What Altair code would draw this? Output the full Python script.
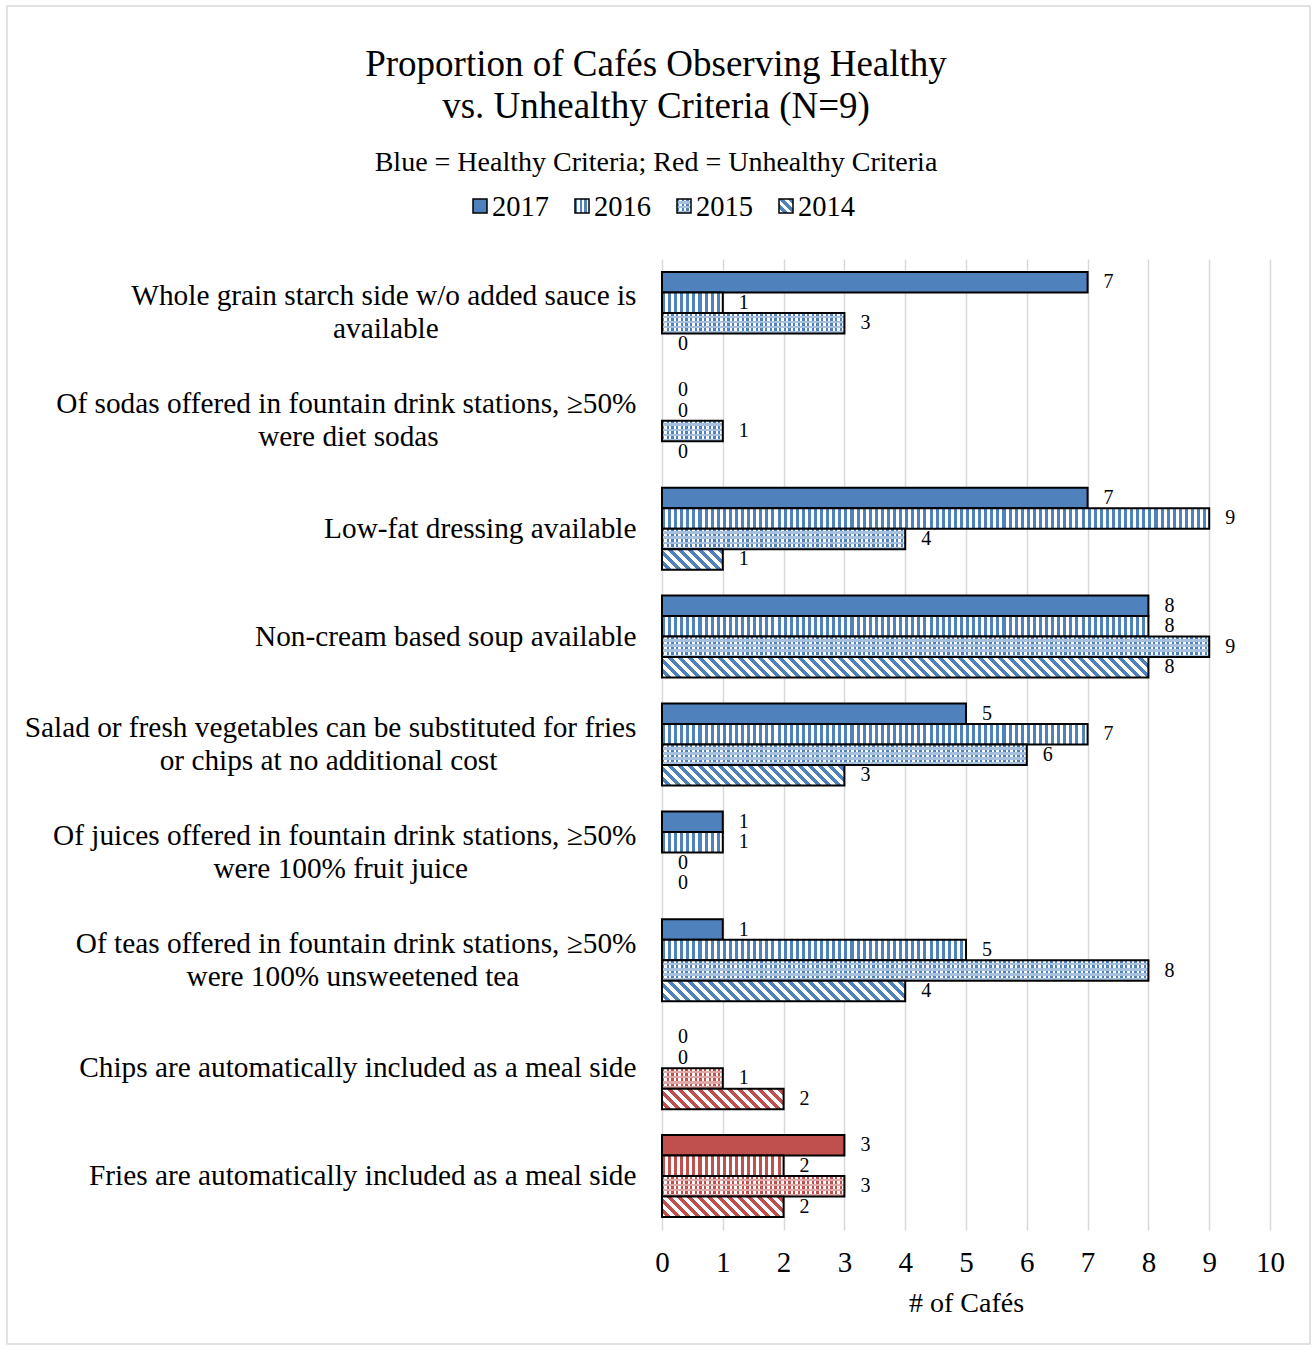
import altair as alt
import pandas as pd

# ---------------- data ----------------
CATEGORY_LINES = [
    ["Whole grain starch side w/o added sauce is", "available"],
    ["Of sodas offered in fountain drink stations, \u226550%", "were diet sodas"],
    ["Low-fat dressing available"],
    ["Non-cream based soup available"],
    ["Salad or fresh vegetables can be substituted for fries", "or chips at no additional cost"],
    ["Of juices offered in fountain drink stations, \u226550%", "were 100% fruit juice"],
    ["Of teas offered in fountain drink stations, \u226550%", "were 100% unsweetened tea"],
    ["Chips are automatically included as a meal side"],
    ["Fries are automatically included as a meal side"],
]
GROUPS = ["Healthy"] * 7 + ["Unhealthy"] * 2
YEARS = ["2017", "2016", "2015", "2014"]
V2017 = [7, 0, 7, 8, 5, 1, 1, 0, 3]
V2016 = [1, 0, 9, 8, 7, 1, 5, 0, 2]
V2015 = [3, 1, 4, 9, 6, 0, 8, 1, 3]
V2014 = [0, 0, 1, 8, 3, 0, 4, 2, 2]
SERIES = {"2017": V2017, "2016": V2016, "2015": V2015, "2014": V2014}
X_TICKS = list(range(0, 11))

TITLE_LINES = ["Proportion of Caf\u00e9s Observing Healthy", "vs. Unhealthy Criteria (N=9)"]
SUBTITLE = "Blue = Healthy Criteria; Red = Unhealthy Criteria"
X_TITLE = "# of Caf\u00e9s"

# ---------------- styling ----------------
FONT = "Liberation Serif"
BLUE = "#4F81BD"
RED = "#C0504D"
BLUE_LIGHT = "#A7C0DE"
RED_LIGHT = "#E0A8A6"
COL = {"Healthy": BLUE, "Unhealthy": RED}
COL_LIGHT = {"Healthy": BLUE_LIGHT, "Unhealthy": RED_LIGHT}
NBSP = "\u00a0"
ZWSP = "\u200b"
LINE2_PAD = [27, 27, 0, 0, 19, 23, 16, 0, 0]  # centres the second label line

PLOT_W, PLOT_H = 608, 971
LEFT, TOP, RIGHT, BOTTOM = 662, 259, 45, 116
PAD_INNER = 0.24
PX_PER_UNIT = PLOT_W / 10.0
BAR_H = PLOT_H / 9.0 * (1 - PAD_INNER) / 4.0
LABEL_LH = 33


def label_key(lines, pad):
    if len(lines) == 1:
        return lines[0]
    return lines[0] + "|" + lines[1] + NBSP * pad + ZWSP


CATS = [label_key(l, p) for l, p in zip(CATEGORY_LINES, LINE2_PAD)]

rows = []
for i, cat in enumerate(CATS):
    for yr in YEARS:
        rows.append({"ci": i, "category": cat, "group": GROUPS[i], "year": yr, "value": SERIES[yr][i]})
df = pd.DataFrame(rows)


# ---------------- pattern gradients ----------------
def r5(v):
    return round(v, 5)


def stripes(color, bg, n, direction="x", start_transparent=False):
    stops = []
    for k in range(n):
        a, b, c = k / n, (k + 0.5) / n, (k + 1) / n
        c1, c2 = (bg, color) if start_transparent else (color, bg)
        stops += [
            {"offset": r5(a), "color": c1},
            {"offset": r5(b), "color": c1},
            {"offset": r5(b), "color": c2},
            {"offset": r5(c), "color": c2},
        ]
    g = {"gradient": "linear", "stops": stops, "x1": 0, "y1": 0}
    if direction == "x":
        g.update({"x2": 1, "y2": 0})
    else:
        g.update({"x2": 0, "y2": 1})
    return g


def diagonal(color, W, H, P=10.0):
    a = (W + H) / (W * W + H * H)
    n = (W + H) / P
    stops = []
    k = 0
    while k < n:
        o0 = min(k / n, 1)
        o1 = min((k + 0.5) / n, 1)
        o2 = min((k + 1) / n, 1)
        stops += [
            {"offset": r5(o0), "color": "white"},
            {"offset": r5(o1), "color": "white"},
            {"offset": r5(o1), "color": color},
            {"offset": r5(o2), "color": color},
        ]
        k += 1
    return {"gradient": "linear", "stops": stops, "x1": 0, "y1": 1,
            "x2": r5(a * W), "y2": r5(1 - a * H)}


# ---------------- encodings ----------------
x_enc = alt.X(
    "value:Q",
    scale=alt.Scale(domain=[0, 10], nice=False),
    axis=alt.Axis(values=X_TICKS, title=X_TITLE, grid=True, domain=False, ticks=False,
                  tickSize=0, labelPadding=18, titlePadding=12, format="d", labelFlush=False),
)
y_enc = alt.Y(
    "category:N",
    scale=alt.Scale(domain=CATS, paddingInner=PAD_INNER, paddingOuter=PAD_INNER / 2),
    axis=alt.Axis(
        title=None, labelExpr="split(datum.label, '|')", ticks=False, tickSize=0,
        domain=False, grid=False, labelPadding=26, labelLimit=800,
        labelLineHeight=LABEL_LH, labelBaseline="middle",
        labelOffset={"condition": {"test": "indexof(datum.value, '|') >= 0", "value": -LABEL_LH / 2}, "value": 0},
    ),
)
yo_enc = alt.YOffset("year:N", scale=alt.Scale(domain=YEARS, paddingInner=0, paddingOuter=0))

layers = []

# 2017: solid bars
layers.append(
    alt.Chart(df)
    .transform_filter((alt.datum.year == "2017") & (alt.datum.value > 0))
    .mark_bar(stroke="black", strokeWidth=2)
    .encode(
        x=x_enc, y=y_enc, yOffset=yo_enc,
        color=alt.Color("group:N", scale=alt.Scale(domain=["Healthy", "Unhealthy"], range=[BLUE, RED]), legend=None),
    )
)


def one_bar(i, yr, **mark):
    return (
        alt.Chart(df)
        .transform_filter((alt.datum.ci == i) & (alt.datum.year == yr))
        .mark_bar(**mark)
        .encode(x=x_enc, y=y_enc, yOffset=yo_enc)
    )


for i in range(len(CATS)):
    g = GROUPS[i]
    c, cl = COL[g], COL_LIGHT[g]
    # 2016: vertical stripes
    v = V2016[i]
    if v > 0:
        layers.append(one_bar(i, "2016", fill=stripes(c, "white", 10 * v), stroke="black", strokeWidth=2))
    # 2015: checker-like texture
    v = V2015[i]
    if v > 0:
        layers.append(one_bar(i, "2015", fill=stripes(c, "white", 13 * v), strokeWidth=0))
        layers.append(one_bar(i, "2015", fill=stripes(cl, "rgba(255,255,255,0)", 4, direction="y", start_transparent=True),
                              stroke="black", strokeWidth=2))
    # 2014: diagonal stripes
    v = V2014[i]
    if v > 0:
        W = v * PX_PER_UNIT
        layers.append(one_bar(i, "2014", fill=diagonal(c, W, BAR_H), stroke="black", strokeWidth=2))

# value labels
layers.append(
    alt.Chart(df)
    .mark_text(align="center", baseline="middle", dx=21, font=FONT, fontSize=20, color="black")
    .encode(x=x_enc, y=y_enc, yOffset=yo_enc, text=alt.Text("value:Q", format="d"))
)

# ---------------- titles (as text) ----------------
for k, line in enumerate(TITLE_LINES):
    layers.append(
        alt.Chart(pd.DataFrame({"t": [line]}))
        .mark_text(align="center", baseline="middle", font=FONT, fontSize=37, color="black")
        .encode(text="t:N", x=alt.value(-6), y=alt.value(-194 + 42 * k))
    )
layers.append(
    alt.Chart(pd.DataFrame({"t": [SUBTITLE]}))
    .mark_text(align="center", baseline="middle", font=FONT, fontSize=28, color="black")
    .encode(text="t:N", x=alt.value(-6), y=alt.value(-96))
)

# ---------------- legend ----------------
LEG_X = [-189, -87, 15, 117]
SW = 14
legend_fills = {
    "2017": [BLUE],
    "2016": [stripes(BLUE, "white", 3)],
    "2015": [stripes(BLUE, "white", 3), stripes(BLUE_LIGHT, "rgba(255,255,255,0)", 3, direction="y", start_transparent=True)],
    "2014": [diagonal(BLUE, SW, SW, P=9.0)],
}
for yr, lx in zip(YEARS, LEG_X):
    fills = legend_fills[yr]
    for j, f in enumerate(fills):
        last = j == len(fills) - 1
        layers.append(
            alt.Chart(pd.DataFrame({"year": [yr]}))
            .mark_rect(fill=f, stroke="black" if last else None, strokeWidth=1.5 if last else 0)
            .encode(x=alt.value(lx), x2=alt.value(lx + SW), y=alt.value(-60), y2=alt.value(-60 + SW))
        )
    layers.append(
        alt.Chart(pd.DataFrame({"year": [yr]}))
        .mark_text(align="left", baseline="middle", font=FONT, fontSize=28.5, color="black")
        .encode(text="year:N", x=alt.value(lx + 19), y=alt.value(-52))
    )

# outer frame
layers.append(
    alt.Chart(pd.DataFrame({"k": [0]}))
    .mark_rect(fill="rgba(255,255,255,0)", stroke="#d9d9d9", strokeWidth=1.5)
    .encode(x=alt.value(-655), x2=alt.value(648), y=alt.value(-253), y2=alt.value(1085))
)

chart = (
    alt.layer(*layers)
    .properties(
        width=PLOT_W,
        height=PLOT_H,
        padding={"left": LEFT, "top": TOP, "right": RIGHT, "bottom": BOTTOM},
        autosize=alt.AutoSizeParams(type="none"),
        background="white",
    )
    .configure_view(stroke=None)
    .configure_axis(
        labelFont=FONT,
        titleFont=FONT,
        labelColor="black",
        titleColor="black",
        titleFontWeight="normal",
        gridColor="#d9d9d9",
        gridWidth=1.5,
    )
    .configure_axisX(labelFontSize=29, titleFontSize=28)
    .configure_axisY(labelFontSize=29.3)
)

chart.save("out.html", embed_options={"renderer": "svg", "actions": False})
